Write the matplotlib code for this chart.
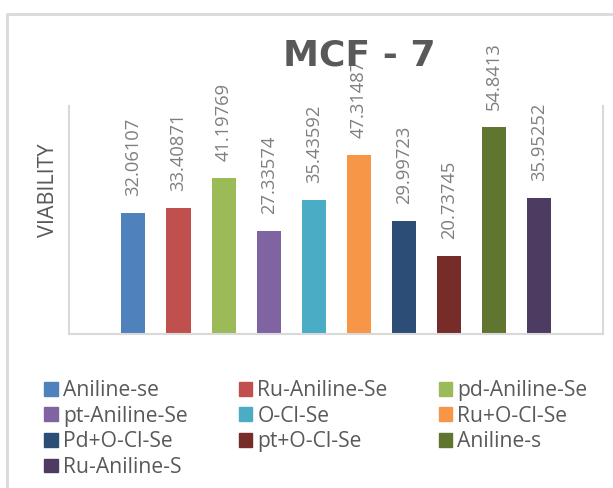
import numpy as np
import matplotlib
matplotlib.use("Agg")
import matplotlib.pyplot as plt
from matplotlib.lines import Line2D
from matplotlib.patches import Rectangle

plt.rcParams['font.family'] = ['Open Sans', 'DejaVu Sans']

# viability of MCF-7 cells for each compound
compounds = ['Aniline-se', 'Ru-Aniline-Se', 'pd-Aniline-Se', 'pt-Aniline-Se',
             'O-Cl-Se', 'Ru+O-Cl-Se', 'Pd+O-Cl-Se', 'pt+O-Cl-Se',
             'Aniline-s', 'Ru-Aniline-S']
viability = [32.06107, 33.40871, 41.19769, 27.33574, 35.43592,
             47.31487, 29.99723, 20.73745, 54.8413, 35.95252]
colors = ['#4F81BD', '#C0504D', '#9BBB59', '#8064A2', '#4BACC6',
          '#F79646', '#2C4D75', '#772C2A', '#5F7530', '#4D3B62']

text_dark = '#595959'
label_grey = '#7F7F7F'
border = '#D9D9D9'

fig = plt.figure(figsize=(6.13, 4.88), dpi=100)
ax = fig.add_axes([69 / 613, 1 - 334 / 488, 534 / 613, 228 / 488])

x = np.arange(len(compounds))
bars = ax.bar(x, viability, width=0.533, color=colors)

for xi, v in zip(x, viability):
    ax.annotate(str(v), (xi, v), xytext=(0, 12.2), textcoords='offset points',
                rotation=90, ha='center', va='bottom', fontsize=13.2,
                color=label_grey)

ax.set_xlim(-1.43, 10.42)
ax.set_ylim(0, 60.3)
ax.set_xticks([])
ax.set_yticks([])
ax.spines['top'].set_visible(False)
for side in ['left', 'right', 'bottom']:
    ax.spines[side].set_color(border)
    ax.spines[side].set_linewidth(1.5)

# outer chart frame, running off the right and bottom edges
fig.add_artist(Line2D([7 / 613, 7 / 613, 1.02], [-0.02, 1 - 14 / 488, 1 - 14 / 488],
                      color=border, lw=2))

fig.text(359 / 613, 1 - 56 / 488, 'MCF - 7', ha='center', va='center',
         fontsize=26, fontweight='bold', color=text_dark, family='DejaVu Sans')
fig.text(49 / 613, 1 - 190 / 488, 'VIABILITY', rotation=90, ha='center',
         va='center', fontsize=15.5, color=text_dark)

# legend reads row by row, matplotlib fills column by column
order = [0, 3, 6, 9, 1, 4, 7, 2, 5, 8]
handles = [Rectangle((0, 0), 1, 1, color=colors[i]) for i in order]
labels = [compounds[i] for i in order]
leg = fig.legend(handles, labels, loc='upper left',
                 bbox_to_anchor=(44 / 613, 1 - 380 / 488), ncol=3,
                 frameon=False, fontsize=15.2, borderpad=0, borderaxespad=0,
                 handlelength=0.64, handleheight=0.64, handletextpad=0.25,
                 columnspacing=2.42, labelspacing=0.22)
for t in leg.get_texts():
    t.set_color(text_dark)

fig.savefig('out.png', dpi=100)
